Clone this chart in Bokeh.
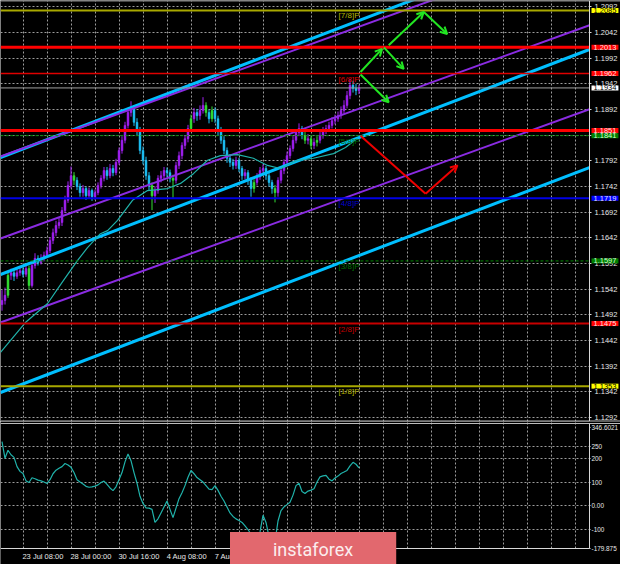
from bokeh.plotting import figure
from bokeh.models import (ColumnDataSource, Range1d, FixedTicker, Label, Grid,
                          Arrow, OpenHead, PrintfTickFormatter, CustomJSTickFormatter)
from bokeh.layouts import column
from bokeh.embed import file_html
from bokeh.resources import INLINE
from bokeh.core.properties import value

# ---------------- data (EUR/USD H4) ----------------
first_open = 1.1512
closes = [1.1520, 1.1530, 1.1569, 1.1574, 1.1567, 1.1574, 1.1578, 1.1571, 1.1582, 1.1549,
          1.1588, 1.1602, 1.1594, 1.1602, 1.1608, 1.1617, 1.1637, 1.1652, 1.1666, 1.1672,
          1.1695, 1.1715, 1.1744, 1.1763, 1.1754, 1.1742, 1.1730, 1.1738, 1.1724, 1.1734,
          1.1722, 1.1730, 1.1744, 1.1758, 1.1773, 1.1763, 1.1777, 1.1769, 1.1789, 1.1812,
          1.1832, 1.1861, 1.1886, 1.1894, 1.1867, 1.1851, 1.1812, 1.1793, 1.1763, 1.1744,
          1.1724, 1.1734, 1.1758, 1.1763, 1.1773, 1.1769, 1.1758, 1.1754, 1.1783, 1.1802,
          1.1822, 1.1835, 1.1855, 1.1874, 1.1886, 1.1880, 1.1890, 1.1900, 1.1886, 1.1874,
          1.1890, 1.1874, 1.1851, 1.1832, 1.1812, 1.1797, 1.1789, 1.1783, 1.1793, 1.1777,
          1.1763, 1.1769, 1.1754, 1.1738, 1.1750, 1.1761, 1.1773, 1.1777, 1.1763, 1.1750,
          1.1738, 1.1730, 1.1754, 1.1773, 1.1789, 1.1802, 1.1816, 1.1832, 1.1847, 1.1855,
          1.1841, 1.1832, 1.1835, 1.1822, 1.1828, 1.1832, 1.1841, 1.1851, 1.1855, 1.1861,
          1.1870, 1.1874, 1.1880, 1.1890, 1.1900, 1.1919, 1.1939, 1.1933, 1.1929, 1.1934]
highs = [1.1540, 1.1545, 1.1575, 1.1582, 1.1580, 1.1581, 1.1586, 1.1584, 1.1590, 1.1588,
         1.1595, 1.1612, 1.1608, 1.1610, 1.1615, 1.1625, 1.1643, 1.1660, 1.1675, 1.1682,
         1.1702, 1.1724, 1.1752, 1.1781, 1.1770, 1.1760, 1.1748, 1.1745, 1.1742, 1.1740,
         1.1738, 1.1736, 1.1750, 1.1764, 1.1780, 1.1780, 1.1786, 1.1784, 1.1796, 1.1818,
         1.1840, 1.1868, 1.1895, 1.1908, 1.1900, 1.1875, 1.1858, 1.1820, 1.1800, 1.1770,
         1.1750, 1.1742, 1.1764, 1.1772, 1.1780, 1.1779, 1.1775, 1.1765, 1.1790, 1.1810,
         1.1828, 1.1842, 1.1862, 1.1882, 1.1895, 1.1893, 1.1900, 1.1916, 1.1906, 1.1892,
         1.1898, 1.1896, 1.1880, 1.1858, 1.1840, 1.1818, 1.1805, 1.1796, 1.1800, 1.1798,
         1.1782, 1.1776, 1.1774, 1.1760, 1.1756, 1.1768, 1.1780, 1.1785, 1.1782, 1.1768,
         1.1755, 1.1745, 1.1760, 1.1780, 1.1795, 1.1810, 1.1822, 1.1840, 1.1853, 1.1865,
         1.1860, 1.1848, 1.1844, 1.1840, 1.1836, 1.1840, 1.1848, 1.1858, 1.1862, 1.1868,
         1.1877, 1.1882, 1.1888, 1.1898, 1.1910, 1.1928, 1.1952, 1.1948, 1.1942, 1.1940]
lows = [1.1500, 1.1512, 1.1525, 1.1560, 1.1558, 1.1562, 1.1568, 1.1565, 1.1566, 1.1541,
        1.1545, 1.1582, 1.1588, 1.1590, 1.1596, 1.1603, 1.1612, 1.1630, 1.1645, 1.1660,
        1.1665, 1.1690, 1.1710, 1.1738, 1.1745, 1.1735, 1.1722, 1.1722, 1.1716, 1.1718,
        1.1714, 1.1716, 1.1725, 1.1738, 1.1752, 1.1755, 1.1758, 1.1762, 1.1764, 1.1784,
        1.1806, 1.1826, 1.1855, 1.1878, 1.1860, 1.1842, 1.1805, 1.1785, 1.1755, 1.1735,
        1.1696, 1.1710, 1.1728, 1.1750, 1.1756, 1.1760, 1.1750, 1.1720, 1.1748, 1.1776,
        1.1795, 1.1815, 1.1828, 1.1848, 1.1866, 1.1870, 1.1872, 1.1884, 1.1878, 1.1865,
        1.1868, 1.1866, 1.1842, 1.1825, 1.1805, 1.1788, 1.1780, 1.1775, 1.1776, 1.1770,
        1.1755, 1.1756, 1.1745, 1.1722, 1.1730, 1.1744, 1.1755, 1.1765, 1.1755, 1.1742,
        1.1728, 1.1711, 1.1722, 1.1748, 1.1766, 1.1782, 1.1796, 1.1810, 1.1826, 1.1840,
        1.1834, 1.1825, 1.1824, 1.1815, 1.1815, 1.1820, 1.1826, 1.1835, 1.1844, 1.1848,
        1.1855, 1.1863, 1.1868, 1.1874, 1.1884, 1.1894, 1.1912, 1.1925, 1.1920, 1.1922]
green_bars = [2, 9, 24, 50, 57, 63, 68, 70, 84, 91, 101, 103, 105]

# moving average (bar, price)
ma_bar = [0, 8.3, 15.7, 21, 25.7, 29, 33.3, 35.7, 39, 44, 49, 55.7, 60, 64.3, 69, 73.3,
          79, 84.3, 89, 93.3, 99, 104.3, 111, 115, 119]
ma_val = [1.1419, 1.1477, 1.1514, 1.1559, 1.1598, 1.1623, 1.1650, 1.1656, 1.1676, 1.1715,
          1.1734, 1.1738, 1.1748, 1.1767, 1.1793, 1.1802, 1.1804, 1.1797, 1.1783, 1.1777,
          1.1793, 1.1797, 1.1806, 1.1818, 1.1836]

# CCI
cci = [270, 200, 234, 215, 204, 165, 145, 136, 105, 98,
       118, 114, 108, 105, 100, 94, 110, 135, 150, 158,
       165, 178, 172, 162, 140, 110, 100, 92, 82, 78,
       80, 83, 88, 98, 104, 90, 75, 64, 80, 110,
       140, 185, 218, 190, 140, 95, 40, 10, -9, -10,
       -15, -70, -55, -30, -5, 20, -15, -50, -10, 30,
       55, 85, 120, 149, 135, 119, 110, 100, 85, 70,
       68, 85, 65, 40, 20, -5, -30, -45, -55, -62,
       -70, -85, -100, -120, -150, -170, -110, -40, -70, -130,
       -165, -150, -64, -20, -5, 5, 15, 45, 85, 95,
       60, 52, 62, 66, 72, 100, 122, 126, 128, 112,
       105, 117, 125, 136, 142, 149, 168, 183, 175, 160]
cci_top, cci_bottom = 346.6021, -179.875
cci_labels = [-179.875, -100, 0, 100, 200, 250, 346.6021]
cci_grid = [-100, 0, 100, 200, 250]

# channels: price at bar 0 and bar 200
chan_x = [0, 200]
cyan_start = [1.17985, 1.15706, 1.13407]
cyan_end = [1.22450, 1.20171, 1.17872]
purple_start = [1.18004, 1.16407, 1.14771]
purple_end = [1.22236, 1.20638, 1.19002]

# horizontal levels
level_values = [1.2085, 1.2013, 1.1962, 1.1934, 1.1851, 1.1841, 1.1719, 1.1597, 1.1475, 1.1353]
level_names = ["[7/8]P", "", "[6/8]P", "", "", "[5/8]P", "[4/8]P", "[3/8]P", "[2/8]P", "[1/8]P"]
level_kind = ["yel", "redT", "red", "cur", "redT", "grn", "blu", "grn", "redD", "yel"]

# forecast arrows (bar, price)
arrow_x0 = [120.0, 127.8, 129.4, 141.1, 120.0, 120.0, 141.7]
arrow_y0 = [1.1965, 1.2013, 1.2017, 1.2082, 1.1960, 1.1841, 1.1728]
arrow_x1 = [127.2, 134.4, 141.1, 148.9, 129.4, 141.7, 152.3]
arrow_y1 = [1.2010, 1.1971, 1.2082, 1.2039, 1.1906, 1.1728, 1.1783]
arrow_col = ["g", "g", "g", "g", "g", "r", "r"]
arrow_head = [True, True, True, True, True, False, True]

# axes
price_ticks = [round(1.1292 + 0.005 * k, 4) for k in range(17)]
time_labels = ["23 Jul 08:00", "28 Jul 00:00", "30 Jul 16:00", "4 Aug 08:00", "7 Aug 00:00"]
time_bars = [7.83, 23.83, 39.83, 55.83, 71.83]
grid_bars = [time_bars[0] + 8 * k for k in range(-1, 26)]
y_min, y_max = 1.12842, 1.21043
x_end = 196.33  # position of the price-scale border, in bars

# ---------------- styles / geometry ----------------
BG = "#000000"
GRID = "#9c9c9c"
TXT = "#e8e8e8"
BORDER = "#d8d8d8"
FONT = "Liberation Sans"
FRAME_W = 620
CHART_W = 589
x_total = x_end * FRAME_W / CHART_W
MAIN_H = 421
CCI_H = 143
CCI_TOP_PX = 2
CCI_AXIS_PX = 16
u = (cci_top - cci_bottom) / (CCI_H - CCI_TOP_PX - CCI_AXIS_PX)
cci_lo = cci_bottom - CCI_AXIS_PX * u
cci_hi = cci_top + CCI_TOP_PX * u
TOP_LABEL_DROP = 4 * u   # the top scale value is written just under the separator
PURPLE_C = "#a020f0"
CYAN_C = "#1ec0f5"
GREEN_C = "#33dd33"
STY = {
    "yel": dict(line="#a8a800", w=2, dash="solid", bg="#ffff00", fg="#000000", name="#b4b400"),
    "redT": dict(line="#ff0000", w=3, dash="solid", bg="#ff0000", fg="#ffe0e0", name="#ff0000"),
    "red": dict(line="#e00000", w=1.5, dash="solid", bg="#ff0000", fg="#ffe0e0", name="#e00000"),
    "cur": dict(line="#a0a0a0", w=1, dash="solid", bg="#ffffff", fg="#000000", name="#a0a0a0"),
    "grn": dict(line="#008a00", w=1, dash="3 2", bg="#008000", fg="#d0ffd0", name="#007000"),
    "blu": dict(line="#0000e6", w=2, dash="solid", bg="#0000ff", fg="#e0e0ff", name="#0000d0"),
    "redD": dict(line="#c80000", w=2, dash="solid", bg="#ff0000", fg="#ffe0e0", name="#c00000"),
}
MURRAY_X = 112.7
TICK_SHIFT = 6.3  # bars: labels start at their time tick


def style_axis(ax, size="7.5px", standoff=3):
    ax.major_label_text_font_size = size
    ax.major_label_text_color = TXT
    ax.major_label_text_font = FONT
    ax.axis_line_color = BORDER
    ax.minor_tick_line_color = None
    ax.major_tick_in = 0
    ax.major_label_standoff = standoff


xr = Range1d(0, x_total)

# ---------------- main price panel ----------------
p = figure(frame_width=FRAME_W, frame_height=MAIN_H, x_range=xr, y_range=Range1d(y_min, y_max),
           x_axis_location=None, y_axis_location="right", toolbar_location=None,
           output_backend="svg", min_border_left=0, min_border_top=0, min_border_bottom=0,
           min_border_right=0, background_fill_color=BG, border_fill_color=BG)
p.outline_line_color = None
p.yaxis.fixed_location = x_end
p.yaxis.ticker = FixedTicker(ticks=price_ticks)
p.yaxis.formatter = PrintfTickFormatter(format="%.4f")
style_axis(p.yaxis[0])
p.yaxis.major_tick_line_color = BORDER
p.yaxis.major_tick_out = 2
p.ygrid.ticker = FixedTicker(ticks=price_ticks)
p.ygrid.grid_line_color = GRID
p.ygrid.grid_line_dash = "2 2"
p.xgrid.visible = False
p.add_layout(Grid(dimension=0, ticker=FixedTicker(ticks=grid_bars), grid_line_color=GRID,
                  grid_line_dash="2 2"))

n = len(closes)
opens = [first_open] + closes[:-1]
xs = [i + 0.5 for i in range(n)]
cols, tops, bots = [], [], []
for i in range(n):
    o, c = opens[i], closes[i]
    if i in green_bars:
        cols.append(GREEN_C)
    elif c >= o:
        cols.append(PURPLE_C)
    else:
        cols.append(CYAN_C)
    t, b = max(o, c), min(o, c)
    if t - b < 0.00008:
        t = b + 0.00008
    tops.append(t)
    bots.append(b)
src = ColumnDataSource(dict(x=xs, h=highs, l=lows, top=tops, bottom=bots, col=cols))
p.segment(x0="x", y0="l", x1="x", y1="h", line_color="col", line_width=1, source=src)
p.vbar(x="x", width=0.6, top="top", bottom="bottom", fill_color="col", line_color="col",
       line_width=0.6, source=src)

# channels
for a, b in zip(cyan_start, cyan_end):
    p.line(chan_x, [a, b], line_color="#00bfff", line_width=3)
for a, b in zip(purple_start, purple_end):
    p.line(chan_x, [a, b], line_color="#8a2be2", line_width=2)

# moving average
p.line(ma_bar, ma_val, line_color="#20b2aa", line_width=1.2)

# Murray names
nm_x, nm_y, nm_t, nm_c = [], [], [], []
for v, nm, k in zip(level_values, level_names, level_kind):
    if nm:
        nm_x.append(MURRAY_X)
        nm_y.append(v)
        nm_t.append(nm)
        nm_c.append(STY[k]["name"])
p.text(x=nm_x, y=nm_y, text=nm_t, text_color=nm_c, text_font=value(FONT),
       text_font_size="8px", text_baseline="top", text_align="left", y_offset=1)

# level lines (chart area only)
for v, k in zip(level_values, level_kind):
    s = STY[k]
    p.segment(x0=[0], y0=[v], x1=[x_end], y1=[v], line_color=s["line"],
              line_width=s["w"], line_dash=s["dash"])

# price-scale area (black) and panel borders
p.quad(left=[x_end], right=[x_total], bottom=[y_min], top=[y_max], fill_color=BG, line_color=None)
p.segment(x0=[0], y0=[y_min], x1=[x_total], y1=[y_min], line_color="#bdbdbd", line_width=2)
p.segment(x0=[0], y0=[y_max], x1=[x_total], y1=[y_max], line_color="#8a8a8a", line_width=2)

# arrows
for x0, y0, x1, y1, c, hd in zip(arrow_x0, arrow_y0, arrow_x1, arrow_y1, arrow_col, arrow_head):
    color = "#22e622" if c == "g" else "#ee0000"
    head = OpenHead(size=7, line_color=color, line_width=2) if hd else None
    p.add_layout(Arrow(x_start=x0, y_start=y0, x_end=x1, y_end=y1, line_color=color,
                       line_width=2, end=head))

# price tags on the scale
for v, k in zip(level_values, level_kind):
    s = STY[k]
    p.add_layout(Label(x=x_end, y=v, x_offset=2, text=f"{v:.4f}", text_font=FONT,
                       text_font_size="7.5px", text_color=s["fg"], text_align="left",
                       text_baseline="middle", background_fill_color=s["bg"],
                       padding=dict(left=2, right=2, top=0, bottom=0)))

# ---------------- CCI panel ----------------
p2 = figure(frame_width=FRAME_W, frame_height=CCI_H, x_range=xr,
            y_range=Range1d(cci_lo, cci_hi), x_axis_location="below",
            y_axis_location="right", toolbar_location=None, output_backend="svg",
            min_border_left=0, min_border_top=0, min_border_bottom=0, min_border_right=0,
            background_fill_color=BG, border_fill_color=BG)
p2.outline_line_color = None
cci_tick_pos = [t - TOP_LABEL_DROP if t == cci_top else t for t in cci_labels]
p2.yaxis.fixed_location = x_end
p2.yaxis.bounds = (cci_bottom, cci_top)
p2.yaxis.ticker = FixedTicker(ticks=cci_tick_pos)
p2.yaxis.formatter = CustomJSTickFormatter(
    args=dict(pos=cci_tick_pos, lab=[("0.00" if t == 0 else str(t)) for t in cci_labels]),
    code="""
let best = ''; let bd = 1e9;
for (let i = 0; i < pos.length; i++) {
  const d = Math.abs(pos[i] - tick);
  if (d < bd) { bd = d; best = lab[i]; }
}
return best;
""")
p2.xaxis.fixed_location = cci_bottom
p2.xaxis.bounds = (0, x_end)
p2.xaxis.ticker = FixedTicker(ticks=[b + TICK_SHIFT for b in time_bars])
p2.xaxis.formatter = CustomJSTickFormatter(
    args=dict(pos=[b + TICK_SHIFT for b in time_bars], lab=time_labels),
    code="""
let best = ''; let bd = 1e9;
for (let i = 0; i < pos.length; i++) {
  const d = Math.abs(pos[i] - tick);
  if (d < bd) { bd = d; best = lab[i]; }
}
return best;
""")
style_axis(p2.yaxis[0], size="6.4px", standoff=1)
style_axis(p2.xaxis[0])
p2.yaxis.major_tick_line_color = BORDER
p2.yaxis.major_tick_out = 1
p2.xaxis.major_tick_line_color = None
p2.xaxis.major_tick_out = 0
p2.ygrid.ticker = FixedTicker(ticks=cci_grid)
p2.ygrid.grid_line_color = GRID
p2.ygrid.grid_line_dash = "2 2"
p2.xgrid.visible = False
p2.add_layout(Grid(dimension=0, ticker=FixedTicker(ticks=grid_bars), grid_line_color=GRID,
                   grid_line_dash="2 2"))
p2.line(xs, cci, line_color="#20b2aa", line_width=1.2)
p2.quad(left=[x_end], right=[x_total], bottom=[cci_lo], top=[cci_hi], fill_color=BG, line_color=None)
p2.quad(left=[0], right=[x_end], bottom=[cci_lo], top=[cci_bottom], fill_color=BG, line_color=None)
p2.segment(x0=[0], y0=[cci_top], x1=[x_total], y1=[cci_top], line_color="#bdbdbd", line_width=1)

# logo
p2.add_layout(Label(x=104.2, y=cci_top - 126 * u, text="instaforex", text_font="Roboto",
                    text_font_size="18px", text_color="#fbeeee", text_align="center",
                    text_baseline="middle", background_fill_color="#e2686e",
                    padding=dict(left=43, right=43, top=7, bottom=7)))

layout = column(p, p2, spacing=0)
open("out.html", "w").write(file_html(layout, INLINE))
